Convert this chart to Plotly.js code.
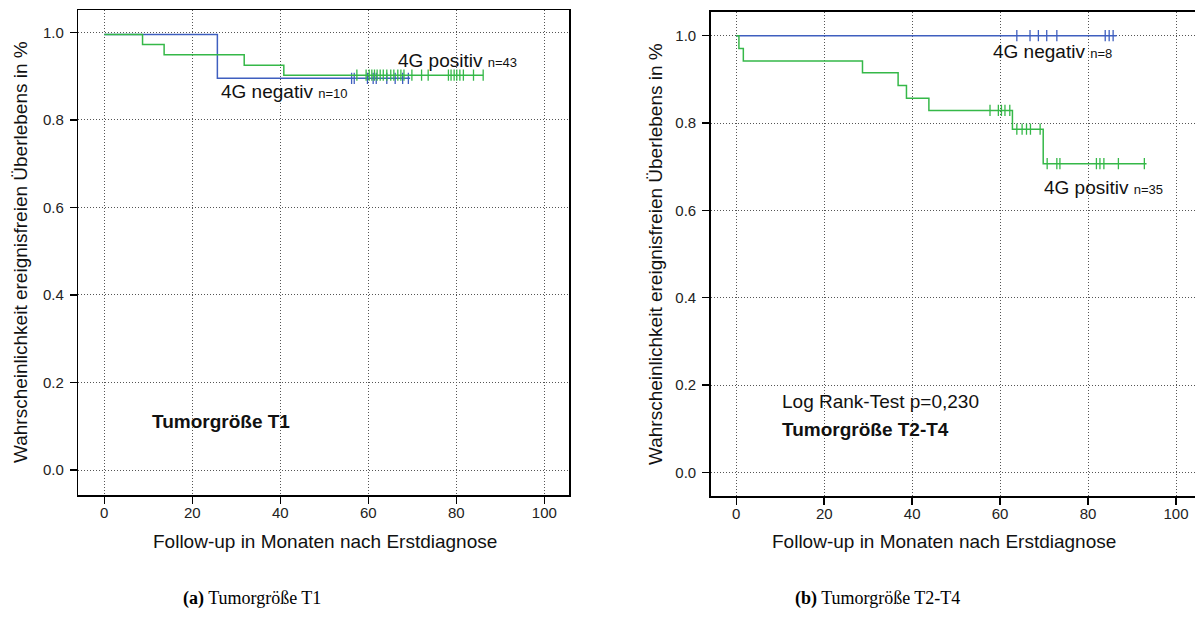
<!DOCTYPE html>
<html>
<head>
<meta charset="utf-8">
<script src="https://cdn.plot.ly/plotly-3.0.1.min.js"></script>
<style>html,body{margin:0;padding:0;background:#fff;}#chart{width:1195px;height:635px;}</style>
</head>
<body>
<div id="chart"></div>
<script>
// ---- Data ----
// Panel (a): Tumorgröße T1
const t1PosTimes = [0, 8.7, 13.6, 31.8, 40.8, 86.1];
const t1PosSurv  = [0.995, 0.972, 0.949, 0.925, 0.902, 0.902];
const t1PosCens  = [57.4, 59.5, 60.2, 60.8, 61.4, 62.0, 62.7, 63.4, 64.2, 65.1, 65.8, 66.7, 67.4, 68.1, 69.9, 72.1, 73.6, 78.2, 78.8, 79.5, 80.1, 80.8, 81.6, 83.9, 86.1];
const t1NegTimes = [0, 25.7, 69.5];
const t1NegSurv  = [0.995, 0.895, 0.895];
const t1NegCens  = [56.2, 56.8, 59.8, 61.1, 61.8, 64.2, 66.1, 67.8, 69.1];
// Panel (b): Tumorgröße T2-T4
const t24PosTimes = [0, 0.6, 1.6, 28.7, 36.8, 38.7, 43.8, 62.8, 69.8, 93.3];
const t24PosSurv  = [1.0, 0.971, 0.942, 0.915, 0.886, 0.857, 0.829, 0.786, 0.707, 0.707];
const t24PosCens  = [57.7, 59.6, 60.3, 61.1, 62.2, 63.8, 65.0, 66.0, 66.9, 69.1, 70.7, 72.9, 73.6, 81.9, 82.7, 83.6, 86.9, 92.8];
const t24NegTimes = [0, 86.5];
const t24NegSurv  = [1.0, 1.0];
const t24NegCens  = [63.8, 66.8, 68.7, 70.6, 72.9, 83.9, 84.8, 85.7];

const xTicks = [0, 20, 40, 60, 80, 100];
const yTicks = [0.0, 0.2, 0.4, 0.6, 0.8, 1.0];

const BLUE = '#3f5fbf';
const GREEN = '#35b848';
const W = 1195, H = 635;
const SANS = 'Liberation Sans, Arial, sans-serif';

function survAt(times, surv, t) {
  let s = surv[0];
  for (let i = 0; i < times.length; i++) { if (times[i] <= t) s = surv[i]; }
  return s;
}
function stepTrace(times, surv, color, xa, ya) {
  return {x: times, y: surv, xaxis: xa, yaxis: ya, mode: 'lines', type: 'scatter',
          line: {color: color, width: 1.5, shape: 'hv'}, hoverinfo: 'skip'};
}
function censTrace(times, surv, cens, color, xa, ya) {
  return {x: cens, y: cens.map(t => survAt(times, surv, t)), xaxis: xa, yaxis: ya,
          mode: 'markers', type: 'scatter', hoverinfo: 'skip',
          marker: {symbol: 'line-ns', size: 8, color: color, line: {color: color, width: 1.3}}};
}

const traces = [
  stepTrace(t1NegTimes, t1NegSurv, BLUE, 'x', 'y'),
  censTrace(t1NegTimes, t1NegSurv, t1NegCens, BLUE, 'x', 'y'),
  stepTrace(t1PosTimes, t1PosSurv, GREEN, 'x', 'y'),
  censTrace(t1PosTimes, t1PosSurv, t1PosCens, GREEN, 'x', 'y'),
  stepTrace(t24NegTimes, t24NegSurv, BLUE, 'x2', 'y2'),
  censTrace(t24NegTimes, t24NegSurv, t24NegCens, BLUE, 'x2', 'y2'),
  stepTrace(t24PosTimes, t24PosSurv, GREEN, 'x2', 'y2'),
  censTrace(t24PosTimes, t24PosSurv, t24PosCens, GREEN, 'x2', 'y2')
];

function px(x) { return x / W; }
function py(y) { return 1 - y / H; }

const axisCommon = {
  showgrid: true, griddash: '1px,2px', gridcolor: '#555', gridwidth: 1,
  showline: true, linecolor: '#000', linewidth: 1.5,
  ticks: 'outside', ticklen: 7, tickwidth: 1.5, tickcolor: '#000',
  tickfont: {family: SANS, size: 15, color: '#222'}, zeroline: false, fixedrange: true
};

function ann(text, x, y, opts) {
  return Object.assign({text: text, x: px(x), y: py(y), xref: 'paper', yref: 'paper',
    showarrow: false, xanchor: 'left', yanchor: 'middle',
    font: {family: SANS, size: 19, color: '#111'}}, opts || {});
}

const annotations = [
  ann('4G positiv <span style="font-size:13px">n=43</span>', 396, 60),
  ann('4G negativ <span style="font-size:13px">n=10</span>', 219, 91),
  ann('<b>Tumorgröße T1</b>', 150, 421),
  ann('4G negativ <span style="font-size:13px">n=8</span>', 991, 52),
  ann('4G positiv <span style="font-size:13px">n=35</span>', 1042, 187),
  ann('Log Rank-Test p=0,230', 780, 401),
  ann('<b>Tumorgröße T2-T4</b>', 780, 429),
  ann('Wahrscheinlichkeit ereignisfreien Überlebens in %', 20, 252, {xanchor: 'center', textangle: -90}),
  ann('Wahrscheinlichkeit ereignisfreien Überlebens in %', 655, 254, {xanchor: 'center', textangle: -90}),
  ann('Follow-up in Monaten nach Erstdiagnose', 325, 541, {xanchor: 'center'}),
  ann('Follow-up in Monaten nach Erstdiagnose', 944.5, 541, {xanchor: 'center'}),
  ann('<b>(a)</b> Tumorgröße T1', 181, 598, {font: {family: 'Liberation Serif, Times New Roman, serif', size: 18, color: '#000'}}),
  ann('<b>(b)</b> Tumorgröße T2-T4', 793, 598, {font: {family: 'Liberation Serif, Times New Roman, serif', size: 18, color: '#000'}})
];

const layout = {
  width: W, height: H,
  margin: {l: 0, r: 0, t: 0, b: 0},
  paper_bgcolor: '#fff', plot_bgcolor: '#fff',
  showlegend: false,
  xaxis: Object.assign({}, axisCommon, {domain: [78.3 / W, 569 / W], range: [-5.9, 105.6], tickvals: xTicks, mirror: true, anchor: 'y', ticklabelstandoff: -4}),
  yaxis: Object.assign({}, axisCommon, {domain: [(H - 495) / H, (H - 10) / H], range: [-0.057, 1.051], tickvals: yTicks, tickformat: '.1f', mirror: true, anchor: 'x', ticklabelstandoff: 3}),
  xaxis2: Object.assign({}, axisCommon, {domain: [710.7 / W, 1], range: [-5.82, 104.32], tickvals: xTicks, mirror: true, anchor: 'y2', ticklabelstandoff: -4}),
  yaxis2: Object.assign({}, axisCommon, {domain: [(H - 496) / H, (H - 11.7) / H], range: [-0.054, 1.055], tickvals: yTicks, tickformat: '.1f', mirror: false, anchor: 'x2', ticklabelstandoff: 3}),
  annotations: annotations
};

Plotly.newPlot('chart', traces, layout, {displayModeBar: false, staticPlot: true});
</script>
</body>
</html>
